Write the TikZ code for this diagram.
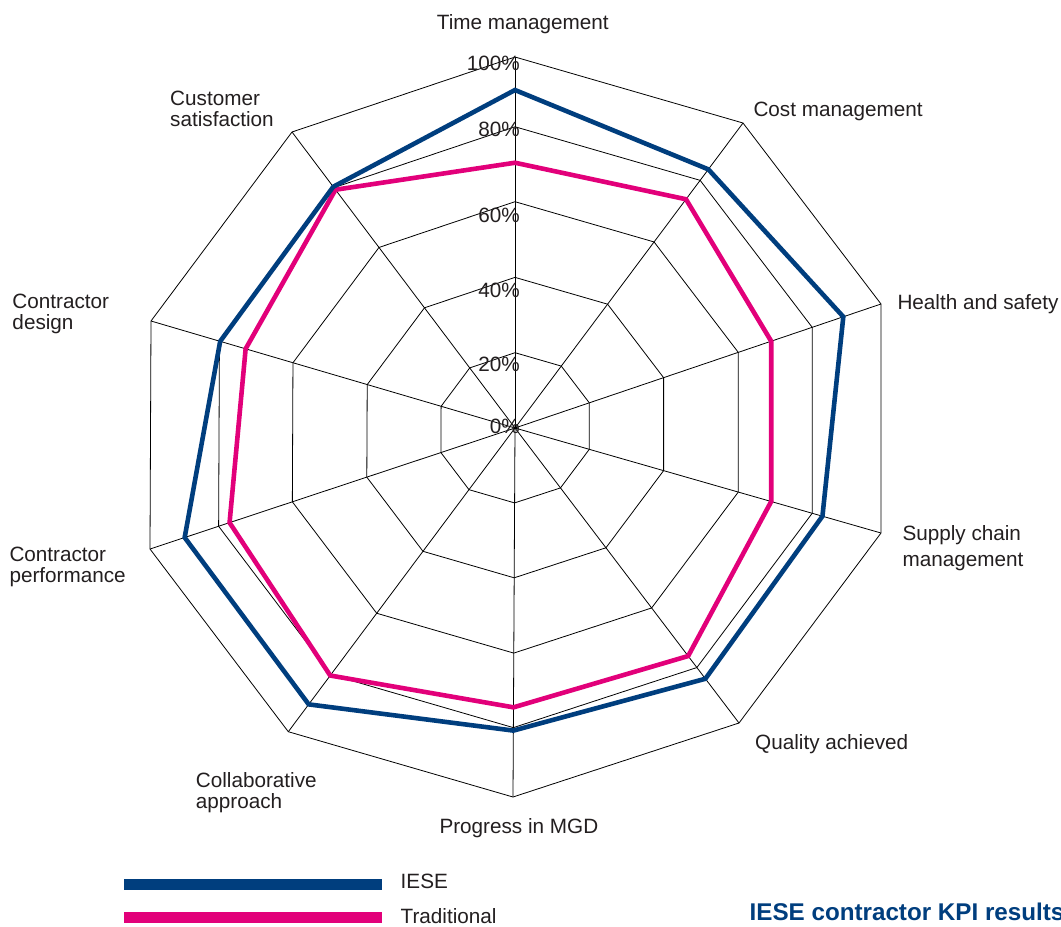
\documentclass[tikz,border=0pt]{standalone}
\usepackage{fontspec}
\setmainfont{Liberation Sans}
\usetikzlibrary{calc}
\definecolor{iese}{RGB}{0,62,126}
\definecolor{trad}{RGB}{226,0,122}
\definecolor{txt}{RGB}{35,31,32}
\begin{document}
\begin{tikzpicture}[x=1pt,y=-1pt,
  gridline/.style={line width=0.8pt,black},
  series/.style={line width=4.6pt,line join=miter},
  lbl/.style={inner sep=0pt,text=txt,font=\fontsize{20.7}{21}\selectfont},
  pct/.style={inner sep=0pt,text=txt,anchor=base east,font=\fontsize{20.7}{21}\selectfont},
  legbar/.style={line width=10.5pt}]
\useasboundingbox (0,0) rectangle (1061,927);
\fill[white] (0,0) rectangle (1061,927);
% centre and outer vertices
\coordinate (O) at (515,428);
\coordinate (v1) at (515,57);
\coordinate (v2) at (743,123);
\coordinate (v3) at (881,304);
\coordinate (v4) at (881,533);
\coordinate (v5) at (739,723);
\coordinate (v6) at (513,797);
\coordinate (v7) at (288.3,731.7);
\coordinate (v8) at (150,549);
\coordinate (v9) at (151,321);
\coordinate (v10) at (292,132);
% rings
\foreach \f in {0.203,0.406,0.61,0.812,1}{
  \draw[gridline] ($(O)!\f!(v1)$) \foreach \i in {2,...,10}{ -- ($(O)!\f!(v\i)$)} -- cycle;
}
% spokes
\foreach \i in {1,...,10}{\draw[gridline] (O) -- (v\i);}
% percent labels
\node[pct] (p100) at (520,70.7) {100\%};
\node[pct] (p80) at (520,136.7) {80\%};
\node[pct] (p60) at (520,222.3) {60\%};
\node[pct] (p40) at (520,297.3) {40\%};
\node[pct] (p20) at (520,371.7) {20\%};
\node[pct] (p0) at (520,433.3) {0\%};
% series
\draw[series,trad] ($(O)!0.715!(v1)$) -- ($(O)!0.75!(v2)$) -- ($(O)!0.70!(v3)$) -- ($(O)!0.70!(v4)$) -- ($(O)!0.773!(v5)$) -- ($(O)!0.757!(v6)$) -- ($(O)!0.815!(v7)$) -- ($(O)!0.782!(v8)$) -- ($(O)!0.74!(v9)$) -- ($(O)!0.805!(v10)$) -- cycle;
\draw[series,iese] ($(O)!0.911!(v1)$) -- ($(O)!0.848!(v2)$) -- ($(O)!0.897!(v3)$) -- ($(O)!0.84!(v4)$) -- ($(O)!0.85!(v5)$) -- ($(O)!0.82!(v6)$) -- ($(O)!0.91!(v7)$) -- ($(O)!0.905!(v8)$) -- ($(O)!0.81!(v9)$) -- ($(O)!0.815!(v10)$) -- cycle;
% axis labels
\node[lbl,anchor=base west] (l1) at (436.7,29.3) {Time management};
\node[lbl,anchor=base west] (l2) at (753.3,116) {Cost management};
\node[lbl,anchor=base west] (l3) at (897.3,309.3) {Health and safety};
\node[lbl,anchor=north west,align=left,font=\fontsize{20.7}{26}\selectfont] (l4) at (902.3,525) {Supply chain\\management};
\node[lbl,anchor=base west] (l5) at (755,749.3) {Quality achieved};
\node[lbl,anchor=base west] (l6) at (439.3,833) {Progress in MGD};
\node[lbl,anchor=north west,align=left] (l7) at (195.7,772.7) {Collaborative\\approach};
\node[lbl,anchor=north west,align=left] (l8) at (9.3,547.3) {Contractor\\performance};
\node[lbl,anchor=north west,align=left] (l9) at (12.3,294.3) {Contractor\\design};
\node[lbl,anchor=north west,align=left] (l10) at (170,90.7) {Customer\\satisfaction};
% legend
\coordinate (a1) at (124,884.5);
\coordinate (b1) at (381.5,884.5);
\coordinate (a2) at (124,917.5);
\coordinate (b2) at (381.5,917.5);
\draw[legbar,iese] (a1) -- (b1);
\draw[legbar,trad] (a2) -- (b2);
\node[lbl,anchor=base west] (k1) at (400.5,888) {IESE};
\node[lbl,anchor=base west] (k2) at (400.5,923.3) {Traditional};
% title
\node[inner sep=0pt,anchor=base west,text=iese,font=\fontsize{24.2}{26}\selectfont\bfseries] (title) at (749.5,920.7) {IESE contractor KPI results};
\end{tikzpicture}
\end{document}
